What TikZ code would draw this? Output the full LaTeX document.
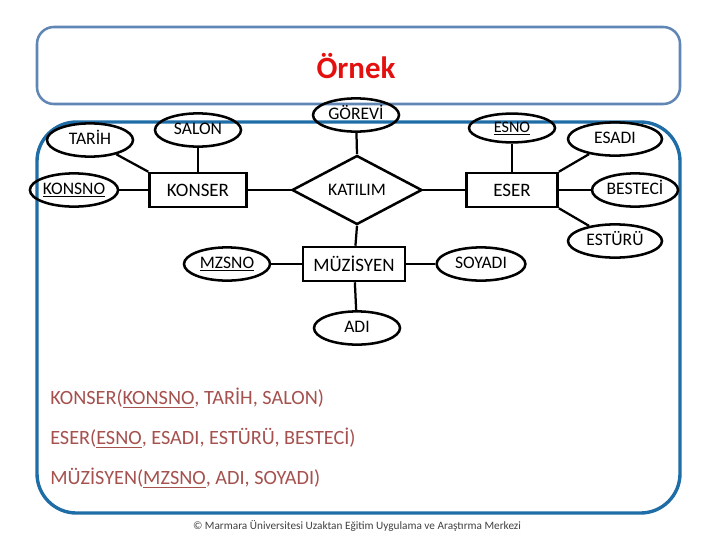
\documentclass[tikz,border=0pt]{standalone}
\usepackage{fontspec}
\setmainfont{Carlito}
\usepackage{tikz}
\usetikzlibrary{shapes.geometric}

\definecolor{framegray}{HTML}{5F86B4}
\definecolor{frameblue}{HTML}{1F6DA6}
\definecolor{relred}{HTML}{A5514E}
\definecolor{titlered}{HTML}{E3100F}

\begin{document}
\begin{tikzpicture}[x=0.025cm, y=-0.025cm,
    attr/.style={draw, ellipse, line width=1.8pt, inner sep=0pt,
        minimum width=2.15cm, minimum height=0.83cm, text height=1.6ex, text depth=0.3ex,
        font=\fontsize{12.5}{14}\selectfont},
    entity/.style={draw, rectangle, line width=1.8pt, inner sep=0pt,
        minimum height=0.85cm, font=\fontsize{13.5}{15}\selectfont},
    relation/.style={draw, diamond, line width=1.8pt, inner sep=0pt,
        minimum width=3.25cm, minimum height=1.4cm, font=\fontsize{12.5}{14}\selectfont},
    link/.style={line width=1.6pt},
    reltext/.style={anchor=west, inner sep=0pt, text=relred, font=\fontsize{14.4}{17}\selectfont}]
    \useasboundingbox (0,0) rectangle (720,540);

    % frames
    \draw[framegray, line width=1.8pt, rounded corners=12] (37,27) rectangle (680,104);
    \draw[frameblue, line width=2.4pt, rounded corners=28] (37,122) rectangle (680,513);
    \node[text=titlered, font=\fontsize{22}{26}\selectfont\bfseries] (title) at (356,66) {Örnek};

    % entities and relation
    \node[entity, minimum width=2.42cm] (konser) at (198,190) {KONSER};
    \node[entity, minimum width=2.28cm] (eser) at (512,190) {ESER};
    \node[entity, minimum width=2.55cm] (muzisyen) at (354,264) {MÜZİSYEN};
    \node[relation] (katilim) at (357,190) {KATILIM};

    % attributes
    \node[attr] (tarih) at (90,140) {TARİH};
    \node[attr] (salon) at (198,130) {SALON};
    \node[attr] (konsno) at (74,190) {\underline{KONSNO}};
    \node[attr] (gorevi) at (356,115) {GÖREVİ};
    \node[attr, minimum height=0.72cm, font=\fontsize{11.5}{13}\selectfont] (esno) at (512,128) {\underline{ESNO}};
    \node[attr, minimum width=2.35cm] (esadi) at (615,139) {ESADI};
    \node[attr] (besteci) at (635,190) {BESTECİ};
    \node[attr, minimum width=2.35cm] (esturu) at (615,241) {ESTÜRÜ};
    \node[attr] (mzsno) at (227,264) {\underline{MZSNO}};
    \node[attr, minimum width=2.22cm] (soyadi) at (481,264) {SOYADI};
    \node[attr] (adi) at (357,328) {ADI};

    % connectors
    \draw[link] (tarih) -- (konser.north west);
    \draw[link] (salon) -- (konser);
    \draw[link] (konsno) -- (konser);
    \draw[link] (konser) -- (katilim.west);
    \draw[link] (gorevi) -- (katilim.north);
    \draw[link] (katilim.east) -- (eser);
    \draw[link] (katilim.south) -- (muzisyen);
    \draw[link] (esno) -- (eser);
    \draw[link] (esadi) -- (eser.north east);
    \draw[link] (besteci) -- (eser);
    \draw[link] (esturu) -- (eser.south east);
    \draw[link] (mzsno) -- (muzisyen);
    \draw[link] (soyadi) -- (muzisyen);
    \draw[link] (adi) -- (muzisyen);

    % relations as text
    \node[reltext] (relkonser) at (50,398) {KONSER(\underline{KONSNO}, TARİH, SALON)};
    \node[reltext] (releser) at (50,438) {ESER(\underline{ESNO}, ESADI, ESTÜRÜ, BESTECİ)};
    \node[reltext] (relmuz) at (50,478) {MÜZİSYEN(\underline{MZSNO}, ADI, SOYADI)};

    \node[text=black!75, font=\fontsize{8}{9}\selectfont] (footer) at (357,526)
        {© Marmara Üniversitesi Uzaktan Eğitim Uygulama ve Araştırma Merkezi};
\end{tikzpicture}
\end{document}
